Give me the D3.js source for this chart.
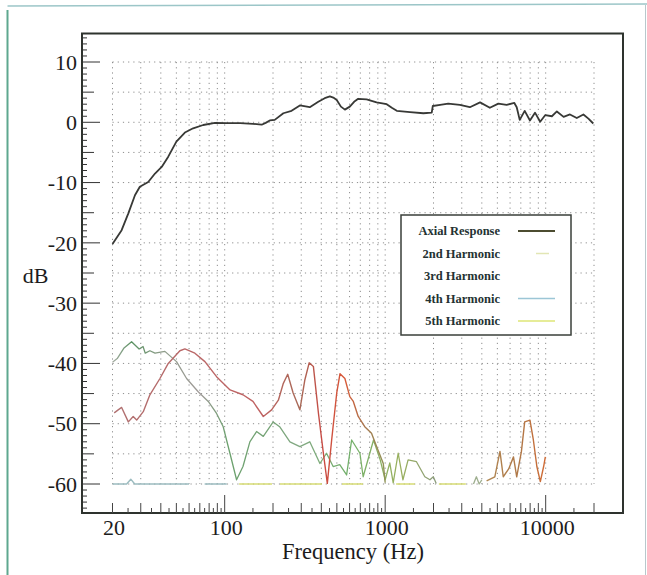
<!DOCTYPE html>
<html>
<head>
<meta charset="utf-8">
<script src="https://cdn.jsdelivr.net/npm/d3@7"></script>
<style>
  html, body { margin: 0; padding: 0; background: #fff; }
  svg { display: block; }
  text { font-family: "Liberation Serif", "DejaVu Serif", serif; }
</style>
</head>
<body>
<div id="chart"></div>
<script>
// Values: [frequency Hz, level dB]; null = gap
const axialResponse = [
  [20, -20.2], [22.8, -17.9], [25.1, -15.1], [27.6, -12.1], [29.6, -10.7], [33.4, -9.9],
  [36.8, -8.5], [40.5, -7.4], [44.5, -5.7], [50, -3.2], [56.5, -1.7], [63.6, -1.0],
  [73.5, -0.45], [87, -0.1], [103, -0.15], [125, -0.15], [150, -0.25], [170, -0.4],
  [180, -0.1], [191, 0.3], [205, 0.4], [232, 1.5], [261, 1.9], [294, 2.8], [339, 2.5],
  [383, 3.4], [420, 4.0], [452, 4.3], [475, 4.1], [499, 3.7], [530, 2.6], [561, 2.1],
  [602, 2.6], [640, 3.4], [679, 3.9], [766, 3.8], [884, 3.3], [1022, 3.0], [1100, 2.4],
  [1181, 1.9], [1429, 1.7], [1729, 1.5], [1950, 1.6], [1980, 2.7], [2200, 2.9], [2470, 3.1],
  [2920, 2.9], [3370, 2.5], [3900, 3.3], [4490, 2.4], [5070, 3.1], [5710, 2.9], [6380, 3.2],
  [6600, 2.5], [6890, 0.4], [7400, 1.9], [7980, 0.3], [8580, 1.6], [9240, 0.1], [9950, 1.2],
  [10930, 1.0], [11740, 1.8], [12930, 0.9], [14170, 1.3], [15620, 0.7], [17180, 1.3],
  [18460, 0.6], [19800, -0.2]
];

const secondHarmonic = [
  [20.5, -48.2], [21.7, -47.7], [22.8, -47.3], [25.1, -49.7], [26.9, -48.8], [28.3, -49.4],
  [31.1, -48.0], [34.2, -45.2], [39.5, -42.5], [44.5, -40.0], [52.6, -37.9], [56.5, -37.6],
  [65.2, -38.3], [75.3, -39.7], [89, -42.2], [108, -44.4], [130, -45.2], [150, -46.3],
  [174, -48.8], [196, -47.7], [216, -46.1], [232, -43.3], [247, -41.8], [267, -44.9],
  [294, -47.7], [316, -42.7], [336, -39.9], [357, -40.5], [384, -48.3], [412, -54.9],
  [436, -59.9], [464, -52.7], [499, -44.9], [523, -41.7], [561, -42.5], [602, -45.5],
  [633, -46.3], [679, -48.8], [746, -50.5], [822, -51.6], [884, -53.8], [973, -56.6],
  [1000, -59.8], null,
  [4285, -59.5], [4820, -58.8], [5190, -54.6], [5440, -58.8], [5880, -57.5], [6300, -55.5],
  [6600, -58.8], [7060, -54.6], [7400, -49.7], [7980, -49.4], [8380, -52.7], [8810, -57.1],
  [9260, -59.6], [9710, -57.1], [9950, -55.5]
];

const thirdHarmonic = [
  [20, -39.8], [21.4, -39.2], [23.5, -37.5], [26.3, -36.4], [29.3, -37.6], [31, -37.2],
  [32, -38.3], [34.2, -37.9], [36.8, -38.3], [42.4, -38.0], [50.1, -39.7], [57.9, -42.5],
  [68.4, -44.7], [79, -46.3], [89, -48.3], [97.9, -50.5], [107.8, -54.9], [118.6, -59.3],
  [130, -57.1], [143.5, -53.0], [158, -51.3], [174, -52.1], [200.6, -49.7], [220, -50.5],
  [255, -53.0], [294, -53.8], [339, -53.0], [392, -56.6], [431, -54.9], [474, -57.1],
  [521, -56.8], [575, -58.5], [618, -52.7], [696, -54.9], [729, -58.8], [846, -52.7],
  [931, -56.0], [1000, -59.3], [1068, -56.5], [1122, -59.8], [1205, -54.9], [1290, -59.3],
  [1389, -56.0], [1566, -56.3], [1766, -58.8], [1900, -59.3], [1995, -58.8], [2080, -59.9],
  null,
  [3550, -60], [3700, -58.8], [3850, -60], [4000, -59.3]
];

const fourthHarmonic = [
  [20, -60], [24.5, -60], [26, -59.2], [27.5, -60], [60, -60], null,
  [75, -60], [103, -60]
];

const fifthHarmonic = [
  [123, -60], [197, -60], null, [221, -60], [404, -60], null,
  [538, -60], [728, -60], null, [1170, -60], [1530, -60], null,
  [2160, -60], [3180, -60]
];

const legendLabels = ["Axial Response", "2nd Harmonic", "3rd Harmonic", "4th Harmonic", "5th Harmonic"];
const yTickValues = [10, 0, -10, -20, -30, -40, -50, -60];
const xTickLabels = [20, 100, 1000, 10000];
const gridFreqs = [20, 30, 40, 50, 60, 70, 80, 90, 100, 200, 300, 400, 500, 600, 700, 800, 900,
  1000, 2000, 3000, 4000, 5000, 6000, 7000, 8000, 9000, 10000, 20000];

const width = 647, height = 575;
const frame = { left: 82, right: 623, top: 33.5, bottom: 513 };

const svg = d3.select("#chart").append("svg")
  .attr("width", width)
  .attr("height", height);

const x = d3.scaleLog().domain([20, 20000]).range([112.5, 594]);
const y = d3.scaleLinear().domain([-60, 10]).range([484, 62]);

// page border from the scan
svg.append("line").attr("x1", 7.5).attr("x2", 7.5).attr("y1", 10).attr("y2", height)
  .attr("stroke", "#5ea88f").attr("stroke-width", 2);
svg.append("line").attr("x1", 7.5).attr("x2", width).attr("y1", 6).attr("y2", 4)
  .attr("stroke", "#9cc6c8").attr("stroke-width", 1.5);
svg.append("line").attr("x1", 645.5).attr("x2", 645.5).attr("y1", 5).attr("y2", height)
  .attr("stroke", "#b8c8cc").attr("stroke-width", 1);

// colour gradients (the scan shifts hue along x)
const defs = svg.append("defs");
function gradient(id, stops) {
  const g = defs.append("linearGradient").attr("id", id)
    .attr("gradientUnits", "userSpaceOnUse")
    .attr("x1", 112).attr("x2", 594).attr("y1", 0).attr("y2", 0);
  stops.forEach(([px, c]) => g.append("stop")
    .attr("offset", (px - 112) / (594 - 112)).attr("stop-color", c));
}
gradient("g2", [[112, "#b07272"], [180, "#b86868"], [260, "#c06262"], [300, "#a86a58"],
  [322, "#c84a44"], [345, "#d85a38"], [365, "#a87850"], [390, "#8a9a5a"],
  [480, "#b08a54"], [520, "#b07848"], [545, "#d06a34"]]);
gradient("g3", [[112, "#a8aca4"], [132, "#5a9262"], [160, "#8c9c88"], [200, "#a09a98"],
  [228, "#6aa06c"], [300, "#82a882"], [350, "#72b06a"], [400, "#9ab05e"], [440, "#8a9a80"],
  [480, "#a0b090"]]);

// grid
const grid = svg.append("g")
  .attr("stroke", "#8e8e8e")
  .attr("stroke-width", 1)
  .attr("stroke-dasharray", "1.2,4");
grid.selectAll("line.h")
  .data(d3.range(-60, 11, 5))
  .join("line")
  .attr("x1", x(20)).attr("x2", x(20000))
  .attr("y1", d => y(d)).attr("y2", d => y(d));
grid.selectAll("line.v")
  .data(gridFreqs)
  .join("line")
  .attr("x1", d => x(d)).attr("x2", d => x(d))
  .attr("y1", y(10)).attr("y2", y(-60));

// frame
svg.append("rect")
  .attr("x", frame.left).attr("y", frame.top)
  .attr("width", frame.right - frame.left)
  .attr("height", frame.bottom - frame.top)
  .attr("fill", "none")
  .attr("stroke", "#2e332e")
  .attr("stroke-width", 2);

// left edge ticks every dB
svg.append("g").selectAll("line")
  .data(d3.range(-64, 15))
  .join("line")
  .attr("x1", frame.left)
  .attr("x2", d => frame.left + (d % 10 === 0 ? 18 : d % 5 === 0 ? 12 : 5))
  .attr("y1", d => y(d)).attr("y2", d => y(d))
  .attr("stroke", "#333")
  .attr("stroke-width", 1);

// bottom edge ticks
const xTicks = [];
[10, 100, 1000, 10000].forEach(dec => {
  d3.range(1, 10.01, 0.5).forEach(k => {
    const f = k * dec;
    if (f >= 20 && f <= 20000 && !xTicks.some(t => t.f === f))
      xTicks.push({ f, len: k === 1 || k === 10 ? 18 : Number.isInteger(k) ? 10 : 5 });
  });
});
svg.append("g").selectAll("line")
  .data(xTicks)
  .join("line")
  .attr("x1", d => x(d.f)).attr("x2", d => x(d.f))
  .attr("y1", frame.bottom).attr("y2", d => frame.bottom - d.len)
  .attr("stroke", "#444")
  .attr("stroke-width", 1);

// tick labels
svg.append("g").selectAll("text")
  .data(yTickValues)
  .join("text")
  .attr("x", 77)
  .attr("y", d => y(d))
  .attr("dy", "0.35em")
  .attr("text-anchor", "end")
  .attr("font-size", "22px")
  .attr("fill", "#1c1c1c")
  .text(d => d);

svg.append("g").selectAll("text")
  .data(xTickLabels)
  .join("text")
  .attr("x", d => x(d) + 1.5)
  .attr("y", 535)
  .attr("text-anchor", "middle")
  .attr("font-size", "22px")
  .attr("fill", "#1c1c1c")
  .text(d => d);

svg.append("text")
  .attr("x", 353).attr("y", 559)
  .attr("text-anchor", "middle")
  .attr("font-size", "22.5px")
  .attr("fill", "#1c1c1c")
  .text("Frequency (Hz)");

svg.append("text")
  .attr("x", 35.5).attr("y", 283)
  .attr("text-anchor", "middle")
  .attr("font-size", "22px")
  .attr("fill", "#1c1c1c")
  .text("dB");

// curves
const line = d3.line()
  .defined(d => d !== null)
  .x(d => x(d[0]))
  .y(d => y(d[1]))
  .curve(d3.curveLinear);

const curves = [
  { data: fourthHarmonic, stroke: "#9cbcc0", width: 1.4 },
  { data: fifthHarmonic,  stroke: "#d6dc74", width: 1.6 },
  { data: thirdHarmonic,  stroke: "url(#g3)", width: 1.3 },
  { data: secondHarmonic, stroke: "url(#g2)", width: 1.4 },
  { data: axialResponse,  stroke: "#383936", width: 1.8 }
];
svg.append("g").selectAll("path")
  .data(curves)
  .join("path")
  .attr("d", d => line(d.data))
  .attr("fill", "none")
  .attr("stroke", d => d.stroke)
  .attr("stroke-width", d => d.width)
  .attr("stroke-linejoin", "round");

// legend
const legend = svg.append("g");
legend.append("rect")
  .attr("x", 401).attr("y", 215)
  .attr("width", 170).attr("height", 120)
  .attr("fill", "#fff")
  .attr("stroke", "#3a3f3a")
  .attr("stroke-width", 1.5);

const legendLines = [
  { x1: 518, x2: 555, stroke: "#4c4c30", width: 2 },
  { x1: 536, x2: 549, stroke: "#e2e6b4", width: 1.5 },
  { x1: 518, x2: 555, stroke: "#ffffff", width: 1 },
  { x1: 518, x2: 555, stroke: "#9cc6d6", width: 1.3 },
  { x1: 518, x2: 555, stroke: "#e6ec98", width: 2 }
];
legend.selectAll("text")
  .data(legendLabels)
  .join("text")
  .attr("x", 500)
  .attr("y", (d, i) => 231 + i * 22.5)
  .attr("dy", "0.35em")
  .attr("text-anchor", "end")
  .attr("font-size", "12.5px")
  .attr("font-weight", "bold")
  .attr("fill", "#243232")
  .text(d => d);
legend.selectAll("line")
  .data(legendLines)
  .join("line")
  .attr("x1", d => d.x1).attr("x2", d => d.x2)
  .attr("y1", (d, i) => 231 + i * 22.5).attr("y2", (d, i) => 231 + i * 22.5)
  .attr("stroke", d => d.stroke)
  .attr("stroke-width", d => d.width);
</script>
</body>
</html>
